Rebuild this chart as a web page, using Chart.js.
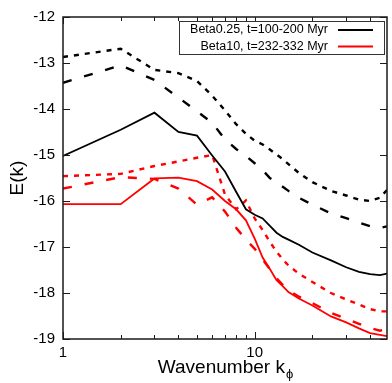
<!DOCTYPE html>
<html>
<head>
<meta charset="utf-8">
<script src="https://cdn.jsdelivr.net/npm/chart.js@4/dist/chart.umd.min.js"></script>
<style>
  html, body { margin: 0; padding: 0; background: #fff; }
  #c { display: block; }
</style>
</head>
<body>
<canvas id="c" width="392" height="383"></canvas>
<script>
// ---- data ----
const kValues = [1, 2, 3, 4, 5, 6, 7, 8, 9, 10, 11, 12, 13, 14, 15, 17, 20, 25, 30, 35, 40, 45, 49];

const beta025Dotted = [-12.87, -12.69, -13.15, -13.22, -13.39, -13.71, -14.03, -14.33, -14.54, -14.69, -14.77, -14.88, -14.99, -15.09, -15.20, -15.39, -15.59, -15.78, -15.88, -15.97, -16.00, -15.93, -15.76];
const beta025Dashed = [-13.43, -13.05, -13.37, -13.75, -14.05, -14.30, -14.66, -14.87, -15.02, -15.18, -15.33, -15.50, -15.59, -15.69, -15.78, -15.93, -16.08, -16.27, -16.37, -16.47, -16.55, -16.59, -16.55];
const beta025Solid  = [-15.02, -14.45, -14.08, -14.50, -14.58, -15.01, -15.36, -15.80, -16.18, -16.30, -16.38, -16.54, -16.69, -16.78, -16.84, -16.95, -17.12, -17.29, -17.44, -17.54, -17.59, -17.61, -17.58];

const beta10Dotted = [-15.46, -15.41, -15.24, -15.14, -15.06, -15.00, -15.86, -16.18, -15.99, -16.38, -16.63, -16.89, -17.10, -17.27, -17.40, -17.58, -17.76, -18.00, -18.14, -18.25, -18.35, -18.40, -18.40];
const beta10Dashed = [-15.73, -15.48, -15.52, -15.73, -16.08, -15.92, -16.23, -16.58, -16.84, -17.04, -17.27, -17.48, -17.68, -17.82, -17.94, -18.08, -18.22, -18.43, -18.56, -18.67, -18.76, -18.82, -18.78];
const beta10Solid  = [-16.07, -16.07, -15.51, -15.49, -15.57, -15.75, -16.00, -16.18, -16.42, -16.82, -17.23, -17.48, -17.72, -17.85, -17.98, -18.12, -18.27, -18.51, -18.64, -18.77, -18.87, -18.91, -18.94];

const legendLabels = ['Beta0.25, t=100-200 Myr', 'Beta10, t=232-332 Myr'];
const xMajorTicks = [1, 10];
const xMinorTicks = [2, 3, 4, 5, 6, 7, 8, 9, 20, 30, 40];
const yTicks = [-19, -18, -17, -16, -15, -14, -13, -12];
const xTitle = 'Wavenumber k';
const xTitleSub = 'ϕ';
const yTitle = 'E(k)';

const FONT = '"Liberation Sans", Arial, Helvetica, sans-serif';

function pts(arr) { return kValues.map((k, i) => ({ x: k, y: arr[i] })); }

const DOT = [5, 6];
const DASH = [9, 13];

const datasets = [
  { data: pts(beta025Dotted), borderColor: '#000', borderWidth: 2.4, borderDash: DOT },
  { data: pts(beta025Dashed), borderColor: '#000', borderWidth: 2.4, borderDash: DASH },
  { data: pts(beta025Solid),  borderColor: '#000', borderWidth: 1.8 },
  { data: pts(beta10Dotted),  borderColor: '#ff0000', borderWidth: 2.4, borderDash: DOT },
  { data: pts(beta10Dashed),  borderColor: '#ff0000', borderWidth: 2.4, borderDash: DASH },
  { data: pts(beta10Solid),   borderColor: '#ff0000', borderWidth: 1.8 }
].map(d => Object.assign({ pointRadius: 0, fill: false, tension: 0, borderCapStyle: 'butt' }, d));

const framePlugin = {
  id: 'frame',
  afterDraw(chart) {
    const { ctx, chartArea: a, scales } = chart;
    const xs = scales.x, ys = scales.y;
    ctx.save();
    ctx.strokeStyle = '#1a1a1a';
    ctx.lineWidth = 1.5;
    ctx.strokeRect(a.left, a.top, a.right - a.left, a.bottom - a.top);
    ctx.lineWidth = 1;
    ctx.beginPath();
    yTicks.forEach(v => {
      const y = Math.round(ys.getPixelForValue(v)) + 0.5;
      ctx.moveTo(a.left, y); ctx.lineTo(a.left + 7, y);
      ctx.moveTo(a.right, y); ctx.lineTo(a.right - 7, y);
    });
    xMajorTicks.forEach(v => {
      const x = Math.round(xs.getPixelForValue(v)) + 0.5;
      ctx.moveTo(x, a.bottom); ctx.lineTo(x, a.bottom - 7);
      ctx.moveTo(x, a.top); ctx.lineTo(x, a.top + 7);
    });
    xMinorTicks.forEach(v => {
      const x = Math.round(xs.getPixelForValue(v)) + 0.5;
      ctx.moveTo(x, a.bottom); ctx.lineTo(x, a.bottom - 4);
      ctx.moveTo(x, a.top); ctx.lineTo(x, a.top + 4);
    });
    ctx.stroke();

    // legend
    const bx = a.right - 208, by = a.top + 4, bw = 205, bh = 33;
    ctx.fillStyle = '#fff';
    ctx.fillRect(bx, by, bw, bh);
    ctx.strokeStyle = '#333';
    ctx.lineWidth = 1;
    ctx.strokeRect(bx + 0.5, by + 0.5, bw, bh);
    ctx.font = '12.5px ' + FONT;
    ctx.textAlign = 'right';
    ctx.textBaseline = 'middle';
    ctx.fillStyle = '#000';
    const colors = ['#000', '#ff0000'];
    legendLabels.forEach((t, i) => {
      const y = by + 9 + i * 16.5;
      ctx.fillText(t, bx + 149, y);
      ctx.strokeStyle = colors[i];
      ctx.lineWidth = 2;
      ctx.beginPath();
      ctx.moveTo(bx + 159, y); ctx.lineTo(bx + 194, y);
      ctx.stroke();
    });

    // axis titles
    ctx.fillStyle = '#000';
    ctx.font = '19px ' + FONT;
    const w1 = ctx.measureText(xTitle).width;
    ctx.font = '13px ' + FONT;
    const w2 = ctx.measureText(xTitleSub).width;
    const cx = (a.left + a.right) / 2;
    const startX = cx - (w1 + w2) / 2;
    ctx.textAlign = 'left';
    ctx.textBaseline = 'alphabetic';
    ctx.font = '19px ' + FONT;
    ctx.fillText(xTitle, startX, 373);
    ctx.font = '13px ' + FONT;
    ctx.fillText(xTitleSub, startX + w1 + 1, 378);

    ctx.save();
    ctx.translate(18, (a.top + a.bottom) / 2);
    ctx.rotate(-Math.PI / 2);
    ctx.font = '19px ' + FONT;
    ctx.textAlign = 'center';
    ctx.textBaseline = 'middle';
    ctx.fillText(yTitle, 0, 0);
    ctx.restore();
    ctx.restore();
  }
};

new Chart(document.getElementById('c'), {
  type: 'line',
  data: { datasets },
  options: {
    responsive: false,
    animation: false,
    devicePixelRatio: 1,
    layout: { padding: { left: 0, right: 1, top: 11, bottom: 0 } },
    plugins: { legend: { display: false }, tooltip: { enabled: false } },
    scales: {
      x: {
        type: 'logarithmic',
        min: 1,
        max: 49,
        afterFit: s => { s.height = 44; },
        grid: { display: false, drawTicks: false },
        border: { display: false },
        ticks: {
          autoSkip: false,
          maxRotation: 0,
          padding: 5,
          color: '#000',
          font: { family: FONT, size: 15 },
          callback: v => (xMajorTicks.includes(v) ? String(v) : '')
        }
      },
      y: {
        type: 'linear',
        min: -19,
        max: -12,
        afterFit: s => { s.width = 63; },
        grid: { display: false, drawTicks: false },
        border: { display: false },
        ticks: {
          stepSize: 1,
          padding: 8,
          color: '#000',
          font: { family: FONT, size: 15 },
          callback: v => (yTicks.includes(v) ? String(v) : '')
        }
      }
    }
  },
  plugins: [framePlugin]
});
</script>
</body>
</html>
